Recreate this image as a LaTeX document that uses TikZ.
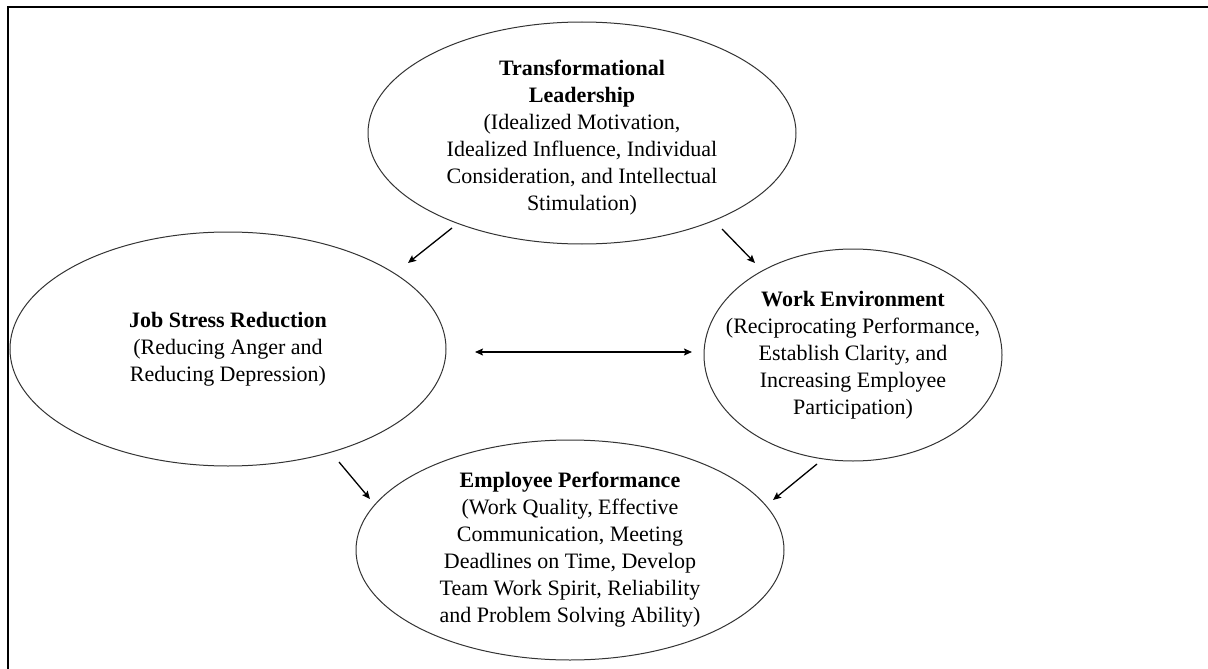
\documentclass[tikz,border=0pt]{standalone}
\usepackage{fontspec}
\setmainfont{Liberation Serif}
\usetikzlibrary{shapes.geometric,arrows.meta}
\begin{document}
\begin{tikzpicture}[x=1pt,y=-1pt,
  oval/.style={draw=black!80, line width=1pt, ellipse, inner sep=0pt},
  caption/.style={align=center, font=\fontsize{22}{27}\selectfont, inner sep=0pt},
  link/.style={line width=1.3pt, -{Stealth[length=8pt,width=7pt,inset=1.5pt]}},
  twoway/.style={line width=1.3pt, {Stealth[length=8pt,width=7pt,inset=1.5pt]}-{Stealth[length=8pt,width=7pt,inset=1.5pt]}},
]
\useasboundingbox (0,0) rectangle (1208,669);

% frame: top and left edges
\coordinate (frameBL) at (8,669);
\coordinate (frameTL) at (8,7);
\coordinate (frameTR) at (1208,7);
\draw[line width=2pt] (frameBL) -- (frameTL) -- (frameTR);

% ellipses
\node[oval, minimum width=428pt, minimum height=222pt] (lead) at (582,133) {};
\node[oval, minimum width=436pt, minimum height=234pt] (stress) at (228,349) {};
\node[oval, minimum width=298pt, minimum height=212pt] (env) at (853,355) {};
\node[oval, minimum width=428pt, minimum height=220pt] (perf) at (570,550) {};

% captions
\node[caption, yshift=-5pt] (leadtxt) at (lead.center) {\textbf{Transformational}\\\textbf{Leadership}\\(Idealized Motivation,\\Idealized Influence, Individual\\Consideration, and Intellectual\\Stimulation)};
\node[caption] (stresstxt) at (stress.center) {\textbf{Job Stress Reduction}\\(Reducing Anger and\\Reducing Depression)};
\node[caption] (envtxt) at (env.center) {\textbf{Work Environment}\\(Reciprocating Performance,\\Establish Clarity, and\\Increasing Employee\\Participation)};
\node[caption] (perftxt) at (perf.center) {\textbf{Employee Performance}\\(Work Quality, Effective\\Communication, Meeting\\Deadlines on Time, Develop\\Team Work Spirit, Reliability\\and Problem Solving Ability)};

% arrow end points
\coordinate (l2sA) at (452,228);
\coordinate (l2sB) at (408,263);
\coordinate (l2eA) at (722,229);
\coordinate (l2eB) at (755,263);
\coordinate (seA) at (475,352);
\coordinate (seB) at (692,352);
\coordinate (s2pA) at (339,462);
\coordinate (s2pB) at (370,499);
\coordinate (e2pA) at (817,464);
\coordinate (e2pB) at (773,500);

\draw[link] (l2sA) -- (l2sB);
\draw[link] (l2eA) -- (l2eB);
\draw[twoway] (seA) -- (seB);
\draw[link] (s2pA) -- (s2pB);
\draw[link] (e2pA) -- (e2pB);
\end{tikzpicture}
\end{document}
